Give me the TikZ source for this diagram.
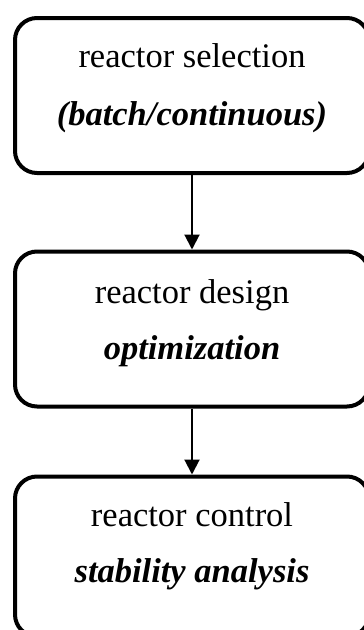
\documentclass[tikz,border=0pt]{standalone}
\usepackage{fontspec}
\setmainfont{Liberation Serif}
\usetikzlibrary{arrows.meta}
\tikzset{
  stagebox/.style={draw=black, line width=4pt, rounded corners=22pt, fill=white,
    minimum width=354pt, minimum height=155pt, inner sep=0pt},
  plainline/.style={anchor=base, inner sep=0pt, font=\fontsize{34.5}{40}\selectfont},
  emphline/.style={anchor=base, inner sep=0pt, font=\fontsize{34.5}{40}\selectfont\bfseries\itshape},
  flow/.style={draw=black, line width=2pt, -{Triangle[width=15pt,length=15pt]}}
}
\begin{document}
\begin{tikzpicture}[x=1pt,y=-1pt]
\useasboundingbox (0,0) rectangle (364,630);
\node[stagebox] (b1) at (192,95.5) {};
\node[stagebox] (b2) at (192,329) {};
\node[stagebox, minimum height=160pt] (b3) at (192,556.5) {};
\node[plainline] (t1a) at (192,67.5) {reactor selection};
\node[emphline] (t1b) at (192,125) {(batch/continuous)};
\node[plainline] (t2a) at (192,303) {reactor design};
\node[emphline] (t2b) at (192,359) {optimization};
\node[plainline] (t3a) at (192,526) {reactor control};
\node[emphline] (t3b) at (192,582) {stability analysis};
\draw[flow] (b1.south) -- (b2.north);
\draw[flow] (b2.south) -- (b3.north);
\end{tikzpicture}
\end{document}
